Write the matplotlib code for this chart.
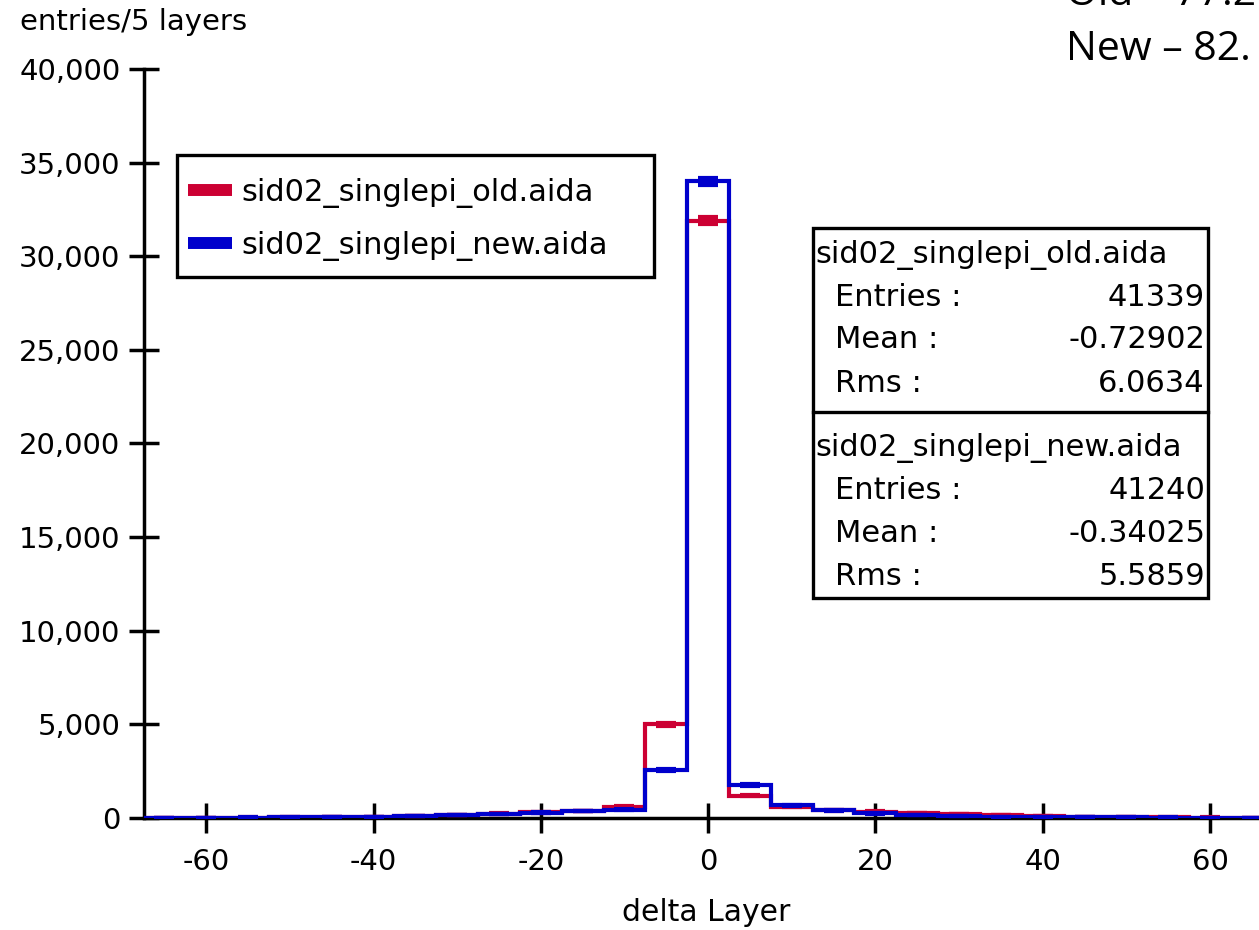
import numpy as np
import matplotlib
matplotlib.use("Agg")
import matplotlib.pyplot as plt
from matplotlib.lines import Line2D
from matplotlib.patches import Rectangle
from matplotlib.ticker import FuncFormatter

# ---------------- data ----------------
bin_edges = np.arange(-67.5, 67.6, 5.0)          # 27 bins of 5 layers
bin_centers = np.arange(-65, 66, 5)

old_counts = [20, 20, 25, 30, 40, 60, 100, 170, 230, 300, 380, 600, 5000,
              31900,
              1200, 600, 420, 340, 270, 210, 160, 90, 60, 40, 30, 25, 20]
new_counts = [20, 20, 25, 30, 40, 60, 100, 160, 220, 290, 370, 450, 2550,
              34000,
              1750, 680, 410, 250, 160, 100, 70, 50, 40, 30, 25, 20, 20]

series_names = ["sid02_singlepi_old.aida", "sid02_singlepi_new.aida"]
series_colors = ["#CC0033", "#0000CC"]

stats_labels = ["Entries :", "Mean :", "Rms :"]
old_stats = ["41339", "-0.72902", "6.0634"]
new_stats = ["41240", "-0.34025", "5.5859"]

x_ticks = [-60, -40, -20, 0, 20, 40, 60]
y_ticks = [0, 5000, 10000, 15000, 20000, 25000, 30000, 35000, 40000]

x_label = "delta Layer"
y_label = "entries/5 layers"
note_lines = ["Old \u2013 77.2", "New \u2013 82."]

# ---------------- figure ----------------
W, H = 1259, 930
fig = plt.figure(figsize=(W / 100, H / 100), dpi=100)
plt.rcParams['font.family'] = ['DejaVu Sans']

def fx(px):
    return px / W

def fy(py):
    return 1 - py / H

ax_left, ax_right = 143.5, 1272.7
ax_bottom, ax_top = 818, 69
ax = fig.add_axes([fx(ax_left), fy(ax_bottom), (ax_right - ax_left) / W, (ax_bottom - ax_top) / H])

for counts, color in zip([old_counts, new_counts], series_colors):
    counts = np.asarray(counts, dtype=float)
    ax.stairs(counts, bin_edges, color=color, lw=3.0, baseline=None, zorder=3)
    ax.errorbar(bin_centers, counts, yerr=np.sqrt(counts), fmt='none',
                ecolor=color, elinewidth=3.0, capsize=7, capthick=3.0, zorder=3)

ax.set_xlim(-67.5, 67.5)
ax.set_ylim(0, 40000)
ax.set_xticks(x_ticks)
ax.set_yticks(y_ticks)
ax.yaxis.set_major_formatter(FuncFormatter(lambda v, p: f"{int(v):,}"))
ax.xaxis.set_major_formatter(FuncFormatter(lambda v, p: f"{int(v)}"))

for s in ['top', 'right']:
    ax.spines[s].set_visible(False)
for s in ['left', 'bottom']:
    ax.spines[s].set_linewidth(2.5)
    ax.spines[s].set_color('black')
    ax.spines[s].set_zorder(2)

ax.tick_params(axis='both', direction='inout', length=21, width=2.5,
               labelsize=21, colors='black')
ax.tick_params(axis='x', pad=11)
ax.tick_params(axis='y', pad=6)

ax.set_xlabel(x_label, fontsize=21.5, va='center')
ax.xaxis.set_label_coords((706 - ax_left) / (ax_right - ax_left),
                          -(912 - ax_bottom) / (ax_bottom - ax_top))

fig.text(fx(20), fy(22), y_label, fontsize=21, ha='left', va='center')

# legend: frame drawn as a rectangle, entries placed without their own frame
lx0, lx1, ly0, ly1 = 177, 654, 155, 277
fig.patches.append(Rectangle((fx(lx0), fy(ly1)), fx(lx1) - fx(lx0), fy(ly0) - fy(ly1),
                             transform=fig.transFigure, facecolor='white',
                             edgecolor='black', lw=2.4, zorder=4))
handles = [Line2D([], [], color=c, lw=8.6, solid_capstyle='butt') for c in series_colors]
leg = fig.legend(handles, series_names, loc='upper left',
                 bbox_to_anchor=(fx(188), fy(178)),
                 fontsize=22, frameon=False, handlelength=1.44,
                 handletextpad=0.3, labelspacing=0.75, borderpad=0.0,
                 borderaxespad=0.0)
leg.set_zorder(6)

# stats box
bx0, bx1, by0, by1, bdiv = 813, 1208, 228, 598, 412
fig.patches.append(Rectangle((fx(bx0), fy(by1)), fx(bx1) - fx(bx0), fy(by0) - fy(by1),
                             transform=fig.transFigure, fill=True, facecolor='white',
                             edgecolor='black', lw=2.4, zorder=5))
fig.add_artist(Line2D([fx(bx0), fx(bx1)], [fy(bdiv), fy(bdiv)],
                      transform=fig.transFigure, color='black', lw=2.4, zorder=6))
rows_y = [[255, 297, 340, 383], [448, 490, 533, 576]]
for name, stats, ys in zip(series_names, [old_stats, new_stats], rows_y):
    fig.text(fx(815), fy(ys[0]), name, fontsize=22, ha='left', va='center', zorder=7)
    for lab, val, yy in zip(stats_labels, stats, ys[1:]):
        fig.text(fx(835), fy(yy), lab, fontsize=22, ha='left', va='center', zorder=7)
        fig.text(fx(1205), fy(yy), val, fontsize=22, ha='right', va='center', zorder=7)

# note text at top right (cut by the image edge in the original)
fig.text(fx(1066), fy(5), note_lines[0], fontsize=29.5, family=['Open Sans', 'DejaVu Sans'],
         ha='left', va='baseline')
fig.text(fx(1066), fy(60), note_lines[1], fontsize=29.5, family=['Open Sans', 'DejaVu Sans'],
         ha='left', va='baseline')

fig.savefig("out.png", dpi=100)
